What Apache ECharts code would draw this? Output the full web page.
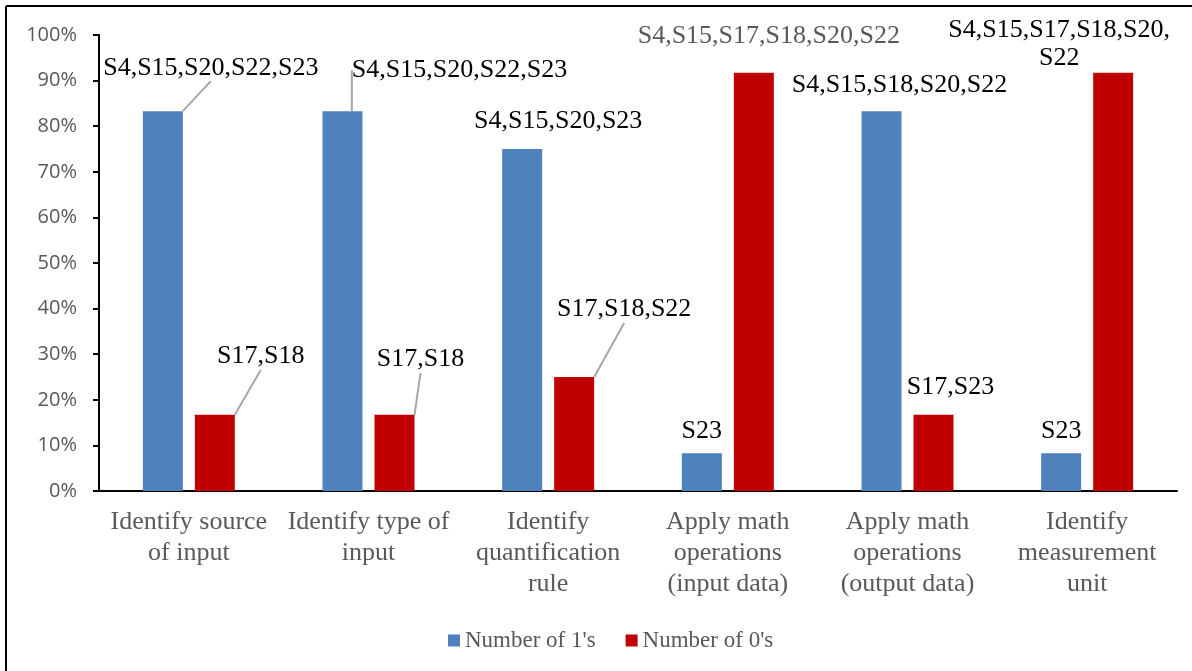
<!DOCTYPE html>
<html>
<head>
<meta charset="utf-8">
<title>Number of 1's / 0's</title>
<script src="https://cdn.jsdelivr.net/npm/echarts@6/dist/echarts.min.js"></script>
<style>
    html, body { margin: 0; padding: 0; background: #fff; }
    .bar { width: 1192px; height: 671px; }
</style>
</head>
<body>
<div class="bar"></div>
<script>
// 数据
const categories = [
    'Identify source\nof input',
    'Identify type of\ninput',
    'Identify\nquantification\nrule',
    'Apply math\noperations\n(input data)',
    'Apply math\noperations\n(output data)',
    'Identify\nmeasurement\nunit'
];
const yTicks = [0, 10, 20, 30, 40, 50, 60, 70, 80, 90, 100];
const ones = [83.3, 83.3, 75, 8.3, 83.3, 8.3];
const zeros = [16.7, 16.7, 25, 91.7, 16.7, 91.7];
const onesLabels = ['S4,S15,S20,S22,S23', 'S4,S15,S20,S22,S23', 'S4,S15,S20,S23', 'S23', 'S4,S15,S18,S20,S22', 'S23'];
const zerosLabels = ['S17,S18', 'S17,S18', 'S17,S18,S22', 'S4,S15,S17,S18,S20,S22', 'S17,S23', 'S4,S15,S17,S18,S20,\nS22'];

(function () {
    const bar = document.querySelector('.bar')
    const echartsInstance = echarts.init(bar)

    //标签挪动的距离 [dx, dy]，以及是否画引导线
    const shifts = [
        [[48, -25], [117, -23], [36, -10], [0, -4], [18, -8], [0, -4]],
        [[46, -40], [26, -37], [50, -49], [15, -18], [17, -9], [-54, 4]]
    ]
    const guide = [
        [true, true, false, false, false, false],
        [true, true, true, false, false, false]
    ]

    function build(values, texts, si) {
        return values.map((v, i) => ({
            value: v,
            label: {
                formatter: texts[i],
                color: (si === 1 && i === 3) ? '#595959' : '#000'
            },
            labelLine: { show: guide[si][i] }
        }))
    }

    const serif = '"Liberation Serif", "Times New Roman", serif'

    const option = {
        animation: false,
        graphic: [
            { type: 'line', shape: { x1: 6, y1: 6, x2: 1192, y2: 6 }, style: { stroke: '#000', lineWidth: 2 } },
            { type: 'line', shape: { x1: 6, y1: 6, x2: 6, y2: 671 }, style: { stroke: '#000', lineWidth: 2 } }
        ],
        legend: {
            left: 443,
            top: 624,
            icon: 'rect',
            itemWidth: 12,
            itemHeight: 12,
            itemGap: 30,
            textStyle: { fontFamily: serif, fontSize: 23, color: '#595959' },
            data: ["Number of 1's", "Number of 0's"]
        },
        grid: {
            left: 99,
            right: 15,
            top: 35,
            bottom: 180
        },
        xAxis: {
            type: 'category',
            data: categories,
            axisTick: { show: false },
            axisLine: { lineStyle: { color: '#000', width: 2 } },
            axisLabel: {
                color: '#595959',
                fontFamily: serif,
                fontSize: 26,
                lineHeight: 31,
                margin: 16,
                interval: 0
            }
        },
        yAxis: {
            type: 'value',
            min: yTicks[0],
            max: yTicks[yTicks.length - 1],
            interval: yTicks[1] - yTicks[0],
            splitLine: { show: false },
            axisLine: { show: true, lineStyle: { color: '#000', width: 2 } },
            axisTick: { show: true, length: 6, lineStyle: { color: '#000', width: 2 } },
            axisLabel: {
                formatter: '{value}%',
                color: '#595959',
                fontFamily: '"Open Sans", "Noto Sans", sans-serif',
                fontSize: 20,
                margin: 22
            }
        },
        series: [
            {
                name: "Number of 1's",
                type: 'bar',
                barWidth: 40,
                barGap: '30%',
                itemStyle: { color: '#4f81bd' },
                label: {
                    show: true,
                    position: 'top',
                    fontFamily: serif,
                    fontSize: 26
                },
                labelLine: { show: true, lineStyle: { color: '#a6a6a6', width: 2 } },
                labelLayout: function (params) {
                    const s = shifts[params.seriesIndex][params.dataIndex]
                    return { dx: s[0], dy: s[1] }
                },
                data: build(ones, onesLabels, 0)
            },
            {
                name: "Number of 0's",
                type: 'bar',
                barWidth: 40,
                itemStyle: { color: '#c00000' },
                label: {
                    show: true,
                    position: 'top',
                    fontFamily: serif,
                    fontSize: 26,
                    lineHeight: 28
                },
                labelLine: { show: true, lineStyle: { color: '#a6a6a6', width: 2 } },
                labelLayout: function (params) {
                    const s = shifts[params.seriesIndex][params.dataIndex]
                    return { dx: s[0], dy: s[1] }
                },
                data: build(zeros, zerosLabels, 1)
            }
        ]
    }

    echartsInstance.setOption(option)
    window.addEventListener('resize', () => {
        echartsInstance.resize()
    })
})();
</script>
</body>
</html>
